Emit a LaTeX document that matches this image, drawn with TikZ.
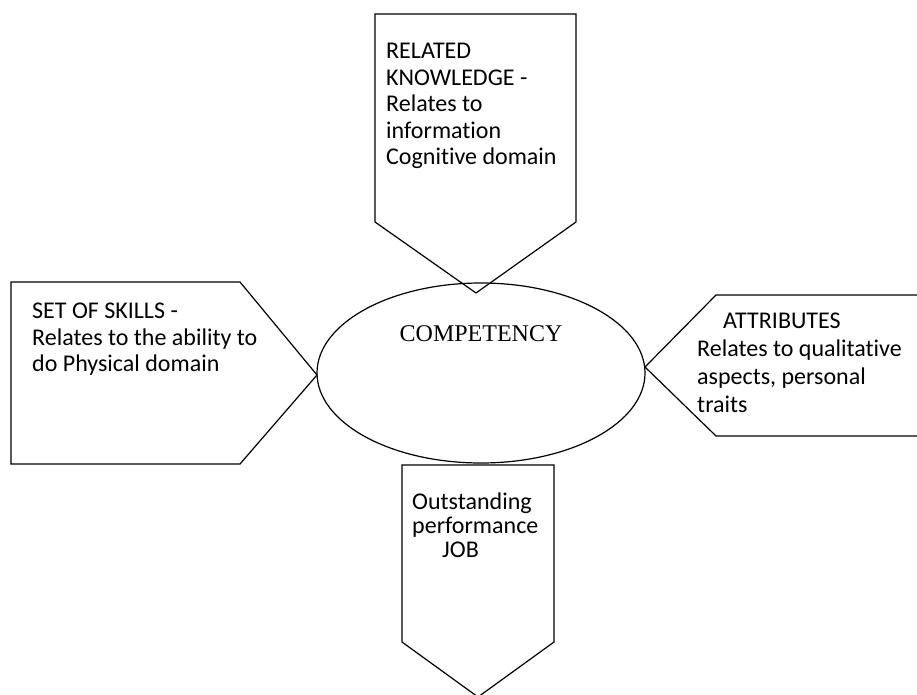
\documentclass[tikz,border=0pt]{standalone}
\usepackage{fontspec}
\setmainfont{Carlito}[Ligatures={NoCommon,NoContextual}]
\newfontfamily\timesf{Liberation Serif}
\usetikzlibrary{shapes.geometric}
\begin{document}
\begin{tikzpicture}[x=1pt,y=-1pt,
  shapeline/.style={draw=black,line width=1.2pt,line join=miter},
  boxtext/.style={anchor=north west,inner sep=0pt,align=left,font=\fontsize{24}{26.5}\selectfont},
]
\useasboundingbox (0,0) rectangle (917,695);
\clip (0,0) rectangle (917,695);
% central ellipse
\node[ellipse,shapeline,minimum width=328pt,minimum height=180pt,inner sep=0pt] (comp) at (481,373) {};
\node[inner sep=0pt,font=\timesf\fontsize{24}{28}\selectfont] (comptext) at (481,334) {COMPETENCY};
% top pentagon
\coordinate (tk) at (476,293);
\draw[shapeline] (375,14) -- (576,14) -- (576,222) -- (tk) -- (375,222) -- cycle;
\node[boxtext] (know) at (386,43) {RELATED\\KNOWLEDGE -\\Relates to\\information\\Cognitive domain};
% left pentagon
\coordinate (ls) at (317,375);
\draw[shapeline] (11,282) -- (240,282) -- (ls) -- (240,464) -- (11,464) -- cycle;
\node[boxtext] (skills) at (32,303) {SET OF SKILLS -\\Relates to the ability to\\do Physical domain};
% right pentagon
\coordinate (ra) at (645,367);
\draw[shapeline] (930,295) -- (716,295) -- (ra) -- (716,436) -- (930,436);
\node[boxtext,font=\fontsize{24}{28}\selectfont] (attr) at (697,313) {\hspace*{26pt}ATTRIBUTES\\Relates to qualitative\\aspects, personal\\traits};
% bottom pentagon
\coordinate (bj) at (478,697);
\draw[shapeline] (402,465) -- (554,465) -- (554,642) -- (bj) -- (402,642) -- cycle;
\node[boxtext,font=\fontsize{24}{24}\selectfont] (job) at (412,493) {Outstanding\\performance\\\hspace*{30pt}JOB};
\end{tikzpicture}
\end{document}
